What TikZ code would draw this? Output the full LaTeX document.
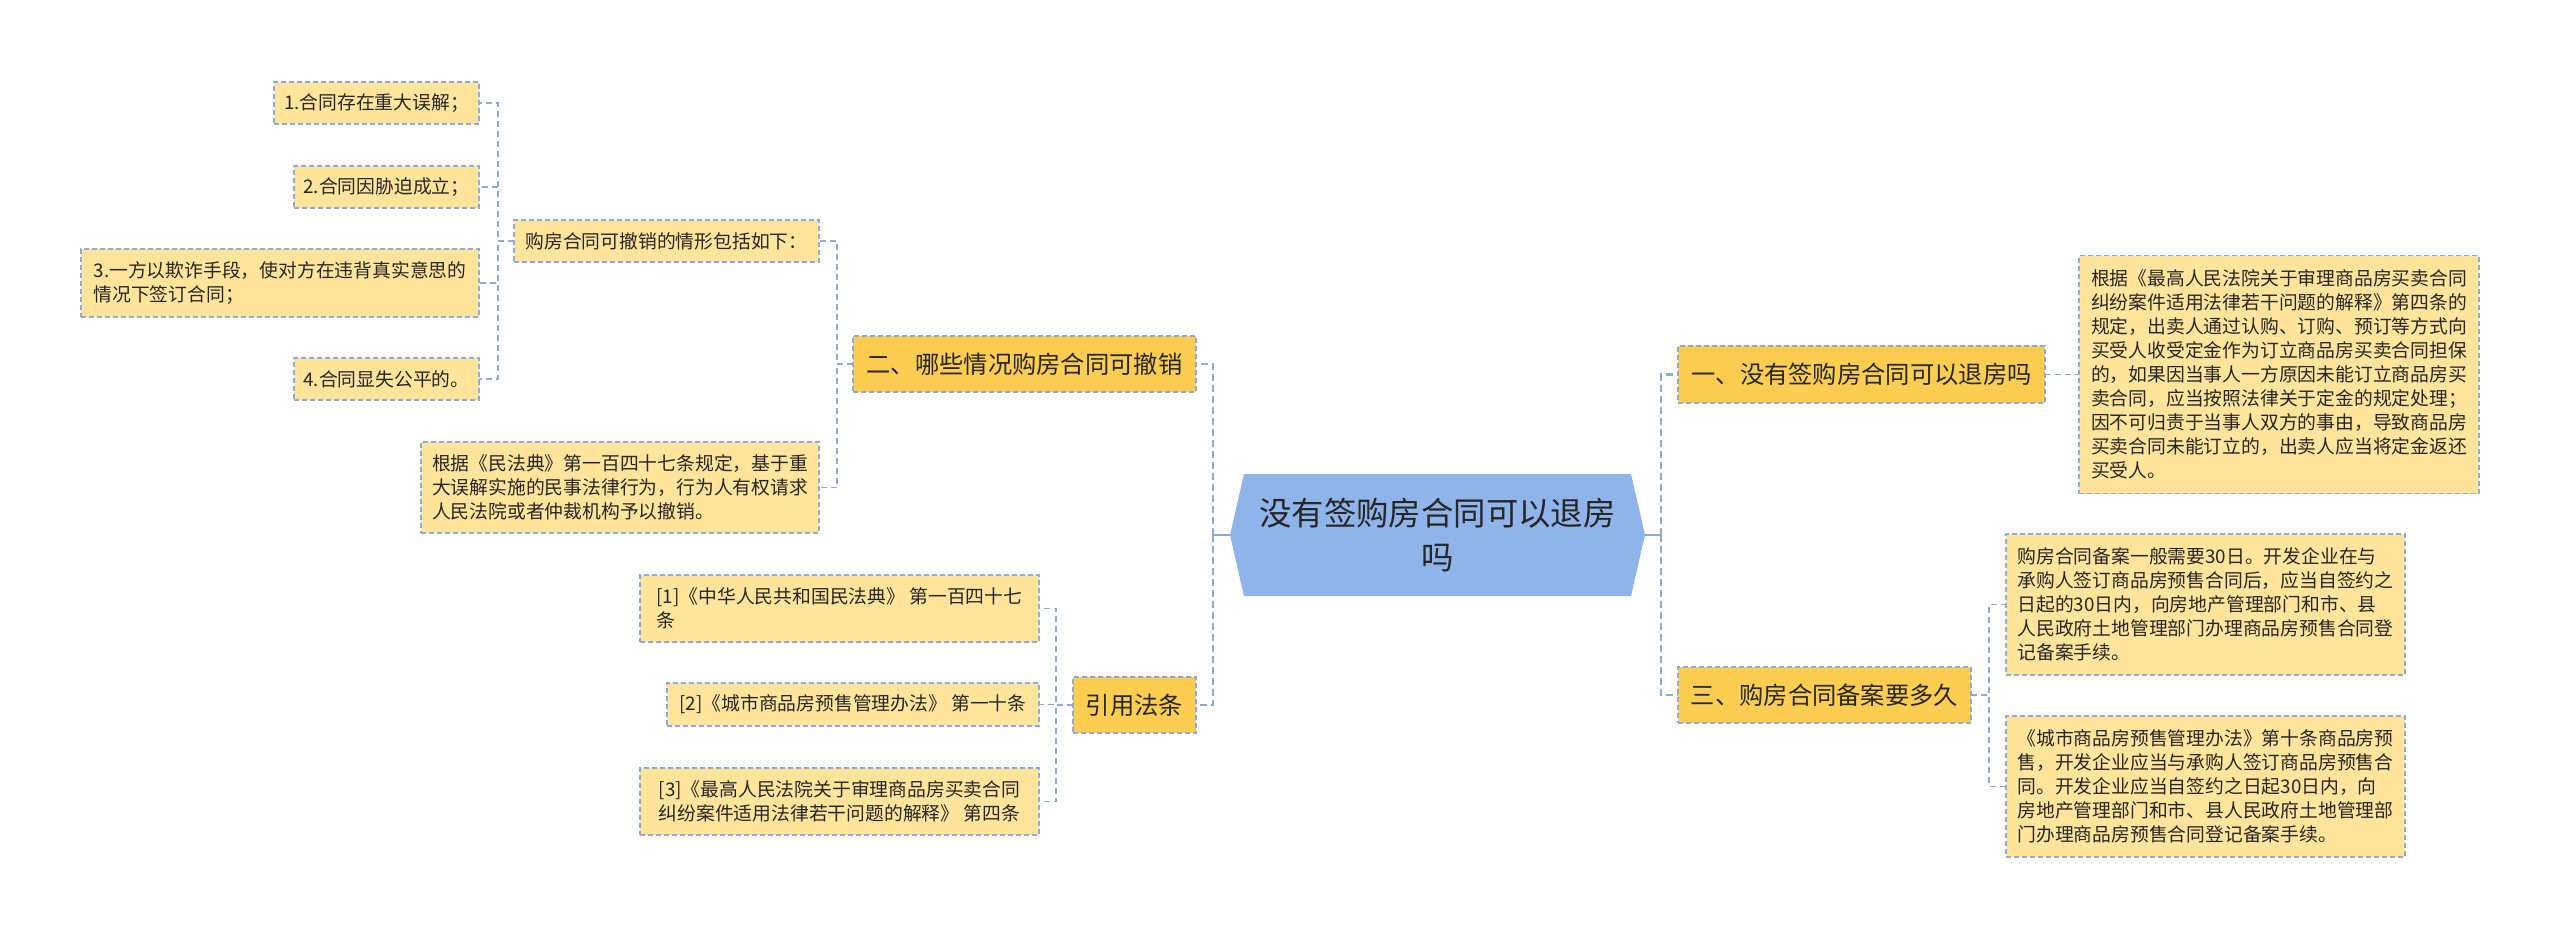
\documentclass[tikz,border=0pt]{standalone}
\usepackage{fontspec}
\newfontfamily\cjk{Noto Sans CJK SC}
\usetikzlibrary{backgrounds}
\definecolor{cfill}{HTML}{8FB4EA}
\definecolor{mfill}{HTML}{FCCD50}
\definecolor{lfill}{HTML}{FFE59C}
\definecolor{bline}{HTML}{8EA9DB}
\definecolor{txt}{HTML}{262626}
\begin{document}
\begin{tikzpicture}[x=1pt,y=-1pt,
  box/.style={draw=bline, line width=1.3pt, dash pattern=on 5pt off 3pt, text=txt,
    inner xsep=8pt, inner ysep=0pt, outer sep=0pt},
  leaf/.style={box, fill=lfill, align=left, font=\fontsize{18.8pt}{24pt}\cjk},
  mainbox/.style={box, fill=mfill, align=center, font=\fontsize{24.3pt}{30pt}\cjk},
  conn/.style={draw=bline, line width=1.5pt, dash pattern=on 6pt off 4pt},
  spine/.style={draw=bline, line width=2.5pt, dash pattern=on 7pt off 4pt}]
\useasboundingbox (0,0) rectangle (2560,938);

% center
\node[font=\fontsize{32.4pt}{44pt}\cjk, text=txt, align=center, minimum width=415pt,
  minimum height=122pt, inner sep=0pt, outer sep=0pt] (c) at (1437.5,535)
  {没有签购房合同可以退房\\吗};
\begin{scope}[on background layer]
\fill[cfill] (c.west) -- ([xshift=14pt]c.north west) -- ([xshift=-14pt]c.north east)
  -- (c.east) -- ([xshift=-14pt]c.south east) -- ([xshift=14pt]c.south west) -- cycle;
\end{scope}

% main branches
\node[mainbox, minimum width=343pt, minimum height=56pt] (n2) at (1024.5,364) {二、哪些情况购房合同可撤销};
\node[mainbox, minimum width=123pt, minimum height=56pt] (cite) at (1134.5,705) {引用法条};
\node[mainbox, minimum width=367pt, minimum height=57pt] (n1) at (1861.5,374.5) {一、没有签购房合同可以退房吗};
\node[mainbox, minimum width=293pt, minimum height=56pt] (n3) at (1824.5,695) {三、购房合同备案要多久};

% right leaves
\node[leaf, minimum width=400pt, minimum height=238pt] (r1) at (2279,374.5)
 {根据《最高人民法院关于审理商品房买卖合同\\纠纷案件适用法律若干问题的解释》第四条的\\规定，出卖人通过认购、订购、预订等方式向\\买受人收受定金作为订立商品房买卖合同担保\\的，如果因当事人一方原因未能订立商品房买\\卖合同，应当按照法律关于定金的规定处理；\\因不可归责于当事人双方的事由，导致商品房\\买卖合同未能订立的，出卖人应当将定金返还\\买受人。};
\node[leaf, minimum width=399pt, minimum height=141pt] (r2) at (2205.5,604.5)
 {购房合同备案一般需要30日。开发企业在与\\承购人签订商品房预售合同后，应当自签约之\\日起的30日内，向房地产管理部门和市、县\\人民政府土地管理部门办理商品房预售合同登\\记备案手续。};
\node[leaf, minimum width=399pt, minimum height=141pt] (r3) at (2205.5,786.5)
 {《城市商品房预售管理办法》第十条商品房预\\售，开发企业应当与承购人签订商品房预售合\\同。开发企业应当自签约之日起30日内，向\\房地产管理部门和市、县人民政府土地管理部\\门办理商品房预售合同登记备案手续。};

% left leaves
\node[leaf, minimum width=305pt, minimum height=42pt] (lsub) at (666.5,241) {购房合同可撤销的情形包括如下：};
\node[leaf, minimum width=398pt, minimum height=91pt] (lgen) at (620,487.5)
 {根据《民法典》第一百四十七条规定，基于重\\大误解实施的民事法律行为，行为人有权请求\\人民法院或者仲裁机构予以撤销。};
\node[leaf, minimum width=205pt, minimum height=42pt] (i1) at (376.5,103) {1.合同存在重大误解；};
\node[leaf, minimum width=185pt, minimum height=42pt] (i2) at (386.5,187) {2.合同因胁迫成立；};
\node[leaf, minimum width=398pt, minimum height=68pt] (i3) at (280,283)
 {3.一方以欺诈手段，使对方在违背真实意思的\\情况下签订合同；};
\node[leaf, minimum width=185pt, minimum height=42pt] (i4) at (386.5,379) {4.合同显失公平的。};

% citations
\node[leaf, minimum width=399pt, minimum height=67pt] (c1) at (839.5,608.5)
 {[1]《中华人民共和国民法典》 第一百四十七\\条};
\node[leaf, minimum width=372pt, minimum height=43pt] (c2) at (853,704.5)
 {[2]《城市商品房预售管理办法》 第一十条};
\node[leaf, minimum width=399pt, minimum height=67pt] (c3) at (839.5,801.5)
 {[3]《最高人民法院关于审理商品房买卖合同\\纠纷案件适用法律若干问题的解释》 第四条};

% connectors
\draw[bline, line width=2.5pt] (c.west) -- ++(-17,0) coordinate (lsp);
\draw[bline, line width=2.5pt] (c.east) -- ++(16,0) coordinate (rsp);
\draw[spine] (lsp) |- (n2.east);
\draw[spine] (lsp) |- (cite.east);
\draw[spine] (rsp) |- (n1.west);
\draw[spine] (rsp) |- (n3.west);

\draw[conn] (n2.west) -- ++(-16,0) |- (lsub.east);
\draw[conn] (n2.west) -- ++(-16,0) |- (lgen.east);
\draw[conn] (lsub.west) -- ++(-16,0) |- (i1.east);
\draw[conn] (lsub.west) -- ++(-16,0) |- (i2.east);
\draw[conn] (lsub.west) -- ++(-16,0) |- (i3.east);
\draw[conn] (lsub.west) -- ++(-16,0) |- (i4.east);
\draw[conn] (cite.west) -- ++(-17,0) |- (c1.east);
\draw[conn] (cite.west) -- ++(-17,0) |- (c2.east);
\draw[conn] (cite.west) -- ++(-17,0) |- (c3.east);
\draw[conn] (n1.east) -- (r1.west);
\draw[conn] (n3.east) -- ++(18,0) |- (r2.west);
\draw[conn] (n3.east) -- ++(18,0) |- (r3.west);
\end{tikzpicture}
\end{document}
